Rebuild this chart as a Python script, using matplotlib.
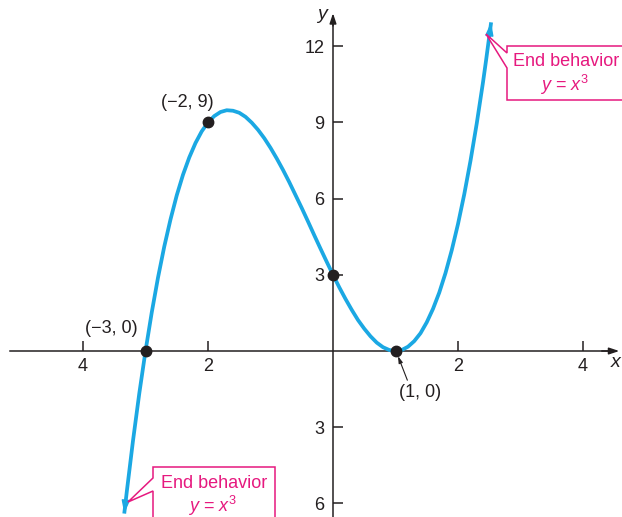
import matplotlib.pyplot as plt
from matplotlib.patches import Polygon

plt.rcParams['font.family'] = ['Liberation Sans', 'DejaVu Sans']
plt.rcParams['mathtext.fontset'] = 'custom'
plt.rcParams['mathtext.rm'] = 'Liberation Sans'
plt.rcParams['mathtext.it'] = 'Liberation Sans:italic'

# points
xs = [-3.34, -3.3, -3.2, -3.1, -3.0, -2.9, -2.8, -2.7, -2.6, -2.5, -2.4, -2.3, -2.2, -2.1,
      -2.0, -1.9, -1.8, -1.7, -1.6, -1.5, -1.4, -1.3, -1.2, -1.1, -1.0, -0.9, -0.8, -0.7,
      -0.6, -0.5, -0.4, -0.3, -0.2, -0.1, 0.0, 0.1, 0.2, 0.3, 0.4, 0.5, 0.6, 0.7, 0.8,
      0.9, 1.0, 1.1, 1.2, 1.3, 1.4, 1.5, 1.6, 1.7, 1.8, 1.9, 2.0, 2.1, 2.2, 2.3, 2.4,
      2.45, 2.53]
ys = [-6.40, -5.55, -3.53, -1.68, 0.0, 1.52, 2.89, 4.11, 5.18, 6.13, 6.94, 7.62, 8.19, 8.65,
      9.0, 9.25, 9.41, 9.48, 9.46, 9.38, 9.22, 8.99, 8.71, 8.38, 8.0, 7.58, 7.13, 6.65,
      6.14, 5.63, 5.10, 4.56, 4.03, 3.51, 3.0, 2.51, 2.05, 1.62, 1.22, 0.88, 0.58, 0.33, 0.15,
      0.04, 0.0, 0.04, 0.17, 0.39, 0.70, 1.13, 1.66, 2.30, 3.07, 3.97, 5.0, 6.17, 7.49, 8.96, 10.58,
      11.46, 12.94]

pts_x = [-3, -2, 0, 1]
pts_y = [0, 9, 3, 0]

xticks = [-4, -2, 2, 4]
xticklabels = ['4', '2', '2', '4']
yticks = [-6, -3, 3, 6, 9, 12]
yticklabels = ['6', '3', '3', '6', '9', '12']

blue = '#1ba8e3'
pink = '#e6197f'
ink = '#231f20'
W, H = 622, 517

fig = plt.figure(figsize=(6.22, 5.17), dpi=100)
ax = fig.add_axes([0, 0, 1, 1])
ax.set_xlim(-5.328, 4.624)
ax.set_ylim(-6.535, 13.82)

for s in ['top', 'right']:
    ax.spines[s].set_visible(False)
ax.spines['bottom'].set_position('zero')
ax.spines['left'].set_position('zero')
ax.spines['bottom'].set_bounds(-5.17, 4.45)
ax.spines['left'].set_bounds(-6.535, 13.1)
for s in ['bottom', 'left']:
    ax.spines[s].set_linewidth(1.1)
    ax.spines[s].set_color(ink)

ax.set_xticks(xticks)
ax.set_xticklabels(xticklabels)
ax.set_yticks(yticks)
ax.set_yticklabels(yticklabels)
ax.tick_params(axis='both', direction='in', length=7, width=1.1, labelsize=13,
               color=ink, labelcolor=ink)
ax.tick_params(axis='x', pad=5)
ax.tick_params(axis='y', pad=6)

# axis arrowheads
ax.annotate('', xy=(4.58, 0), xytext=(4.3, 0),
            arrowprops=dict(arrowstyle='-|>,head_length=0.6,head_width=0.2', color=ink, lw=1.1,
                            shrinkA=0, shrinkB=0))
ax.annotate('', xy=(0, 13.3), xytext=(0, 12.8),
            arrowprops=dict(arrowstyle='-|>,head_length=0.6,head_width=0.2', color=ink, lw=1.1,
                            shrinkA=0, shrinkB=0))
ax.text(4.6, -0.45, 'x', fontsize=14, style='italic', ha='right', va='center', color=ink)
ax.text(-0.1, 13.25, 'y', fontsize=14, style='italic', ha='right', va='center', color=ink)

# curve
ax.plot(xs, ys, color=blue, lw=2.7, solid_capstyle='butt', solid_joinstyle='round', zorder=3)
ax.annotate('', xy=(xs[-1], ys[-1]), xytext=(xs[-2], ys[-2]),
            arrowprops=dict(arrowstyle='-|>,head_length=0.8,head_width=0.25', color=blue, lw=1,
                            shrinkA=0, shrinkB=0), zorder=3)
ax.annotate('', xy=(xs[0], ys[0]), xytext=(xs[1], ys[1]),
            arrowprops=dict(arrowstyle='-|>,head_length=0.8,head_width=0.25', color=blue, lw=1,
                            shrinkA=0, shrinkB=0), zorder=3)

ax.plot(pts_x, pts_y, 'o', color=ink, ms=7.5, zorder=4)

ax.text(-2.33, 9.8, '(\u22122, 9)', fontsize=13, ha='center', va='center', color=ink)
ax.text(-3.54, 0.9, '(\u22123, 0)', fontsize=13, ha='center', va='center', color=ink)
ax.text(1.39, -1.62, '(1, 0)', fontsize=13, ha='center', va='center', color=ink)
ax.annotate('', xy=(1.04, -0.2), xytext=(1.19, -1.15),
            arrowprops=dict(arrowstyle='-|>,head_length=0.4,head_width=0.12', color=ink, lw=0.8,
                            shrinkA=0, shrinkB=0))


def fp(x, y):
    return (x / W, 1 - y / H)


def callout(box, tip, gap):
    x0, y0, x1, y1 = box
    pts = [fp(x0, y0), fp(x1, y0), fp(x1, y1), fp(x0, y1), fp(x0, gap[1]),
           fp(*tip), fp(x0, gap[0])]
    fig.add_artist(Polygon(pts, closed=True, transform=fig.transFigure, fc='white',
                           ec=pink, lw=1.1, zorder=5))


callout((507, 46, 640, 100), (486, 34), (53, 68))
callout((153, 467, 275, 530), (128, 502), (478, 491))

for cx, cy1, cy2 in [(566, 62, 85), (214, 484, 506)]:
    fig.text(*fp(cx, cy1), 'End behavior', color=pink, fontsize=13, ha='center', va='center', zorder=6)
    fig.text(*fp(cx - 2, cy2), '$y$ = $x^3$', color=pink, fontsize=13,
             ha='center', va='center', zorder=6)

fig.savefig('out.png', dpi=100)
